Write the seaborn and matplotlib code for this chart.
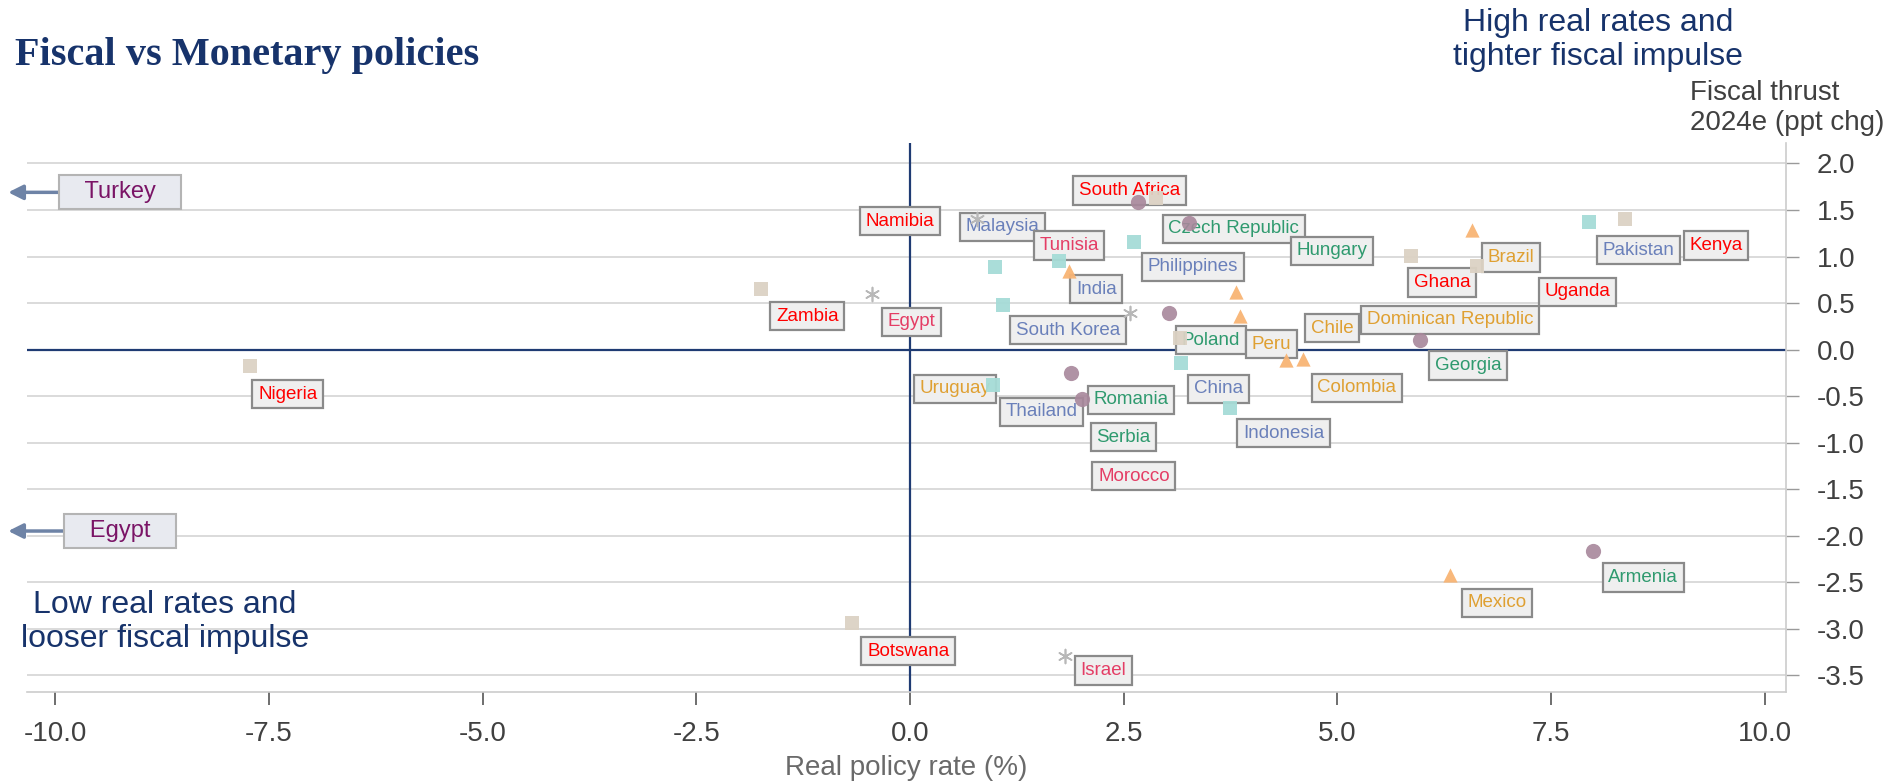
import matplotlib
matplotlib.use("Agg")
import matplotlib.pyplot as plt
import seaborn as sns
import pandas as pd

# ---------------- data ----------------
# real policy rate (%) / fiscal thrust 2024e (ppt chg), grouped by region marker
ssa_x = [-7.72, -1.74, -0.68, 2.88, 3.16, 5.86, 6.64, 8.37]
ssa_y = [-0.18, 0.65, -2.94, 1.63, 0.12, 1.01, 0.90, 1.40]
asia_x = [1.00, 1.09, 1.75, 2.62, 0.97, 3.17, 3.74, 7.94]
asia_y = [0.89, 0.48, 0.95, 1.16, -0.38, -0.14, -0.63, 1.37]
cee_x = [2.67, 3.26, 3.03, 1.88, 2.01, 5.97, 7.99]
cee_y = [1.59, 1.36, 0.39, -0.25, -0.53, 0.10, -2.16]
latam_x = [1.86, 3.81, 3.86, 4.40, 4.60, 6.58, 6.32]
latam_y = [0.84, 0.62, 0.36, -0.11, -0.10, 1.29, -2.42]
mena_x = [-0.44, 0.79, 2.58, 1.81]
mena_y = [0.60, 1.40, 0.39, -3.29]

# country labels and their region
countries = ["Nigeria", "Zambia", "Namibia", "Egypt", "Malaysia", "South Africa",
             "Tunisia", "Czech Republic", "Philippines", "India", "South Korea",
             "Hungary", "Ghana", "Brazil", "Pakistan", "Kenya", "Uganda",
             "Dominican Republic", "Chile", "Poland", "Peru", "Georgia", "Colombia",
             "Uruguay", "Thailand", "Romania", "China", "Serbia", "Indonesia",
             "Morocco", "Armenia", "Mexico", "Botswana", "Israel"]
country_region = ["SSA", "SSA", "SSA", "MENA", "Asia", "SSA",
                  "MENA", "CEE", "Asia", "Asia", "Asia",
                  "CEE", "SSA", "LatAm", "Asia", "SSA", "SSA",
                  "LatAm", "LatAm", "CEE", "LatAm", "CEE", "LatAm",
                  "LatAm", "Asia", "CEE", "Asia", "CEE", "Asia",
                  "MENA", "CEE", "LatAm", "SSA", "MENA"]

# off-chart outliers (arrows)
outliers = ["Turkey", "Egypt"]
outlier_y = [1.69, -1.95]

x_ticks = [-10.0, -7.5, -5.0, -2.5, 0.0, 2.5, 5.0, 7.5, 10.0]
y_ticks = [2.0, 1.5, 1.0, 0.5, 0.0, -0.5, -1.0, -1.5, -2.0, -2.5, -3.0, -3.5]

# ---------------- layout (label box centres) ----------------
label_pos = {
    "Nigeria": (-7.28, -0.48), "Zambia": (-1.20, 0.36), "Namibia": (-0.12, 1.38),
    "Egypt": (0.02, 0.30), "Malaysia": (1.08, 1.32), "South Africa": (2.57, 1.71),
    "Tunisia": (1.86, 1.12), "Czech Republic": (3.79, 1.30), "Philippines": (3.31, 0.89),
    "India": (2.18, 0.65), "South Korea": (1.85, 0.21), "Hungary": (4.94, 1.06),
    "Ghana": (6.23, 0.72), "Brazil": (7.03, 0.99), "Pakistan": (8.52, 1.07),
    "Kenya": (9.43, 1.12), "Uganda": (7.81, 0.62), "Dominican Republic": (6.32, 0.32),
    "Chile": (4.94, 0.23), "Poland": (3.52, 0.10), "Peru": (4.23, 0.06),
    "Georgia": (6.53, -0.17), "Colombia": (5.23, -0.41), "Uruguay": (0.53, -0.42),
    "Thailand": (1.54, -0.67), "Romania": (2.59, -0.54), "China": (3.61, -0.42),
    "Serbia": (2.50, -0.94), "Indonesia": (4.37, -0.90), "Morocco": (2.62, -1.36),
    "Armenia": (8.58, -2.45), "Mexico": (6.87, -2.72), "Botswana": (-0.02, -3.24),
    "Israel": (2.26, -3.45),
}

text_colors = {"SSA": "#ff0000", "CEE": "#2f9a6f", "Asia": "#6a80ba",
               "LatAm": "#dfa032", "MENA": "#e43d65"}
NAVY = "#17336b"

# ---------------- plot ----------------
sns.set_theme(style="white")
plt.rcParams["font.family"] = ["Liberation Sans", "DejaVu Sans"]
plt.rcParams["axes.unicode_minus"] = False

fig = plt.figure(figsize=(19.03, 7.82), dpi=100)
ax = fig.add_axes([0.0142, 0.1151, 0.9243, 0.702])

ax.set_xlim(-10.33, 10.25)
ax.set_ylim(-3.68, 2.22)

# grid
for yv in y_ticks:
    ax.axhline(yv, color="#d4d4d4", lw=1.2, zorder=0)
ax.axhline(0, color="#1f3b73", lw=1.6, zorder=1)
ax.axvline(0, color="#1f3b73", lw=1.6, zorder=1)

# country label boxes
for name, reg in zip(countries, country_region):
    lx, ly = label_pos[name]
    ax.text(lx, ly, name, ha="center", va="center", fontsize=13.5,
            color=text_colors[reg], zorder=3,
            bbox=dict(boxstyle="square,pad=0.3", fc="#efefef", ec="#8a8a8a", lw=1.6))

# markers
df_ssa = pd.DataFrame({"x": ssa_x, "y": ssa_y})
df_asia = pd.DataFrame({"x": asia_x, "y": asia_y})
df_cee = pd.DataFrame({"x": cee_x, "y": cee_y})
df_latam = pd.DataFrame({"x": latam_x, "y": latam_y})
df_mena = pd.DataFrame({"x": mena_x, "y": mena_y})

common = dict(ax=ax, legend=False, zorder=4, linewidth=0)
sns.scatterplot(data=df_ssa, x="x", y="y", marker="s", s=105, color="#dcd2c4", alpha=0.95, **common)
sns.scatterplot(data=df_asia, x="x", y="y", marker="s", s=105, color="#a6dcd7", alpha=0.95, **common)
sns.scatterplot(data=df_cee, x="x", y="y", marker="o", s=120, color="#a8879b", alpha=0.9, **common)
sns.scatterplot(data=df_latam, x="x", y="y", marker="^", s=105, color="#f8b474", alpha=0.95, **common)
sns.scatterplot(data=df_mena, x="x", y="y", marker=(6, 2, 0), s=100, color="#b8b8b8",
                ax=ax, legend=False, zorder=4, linewidth=1.2)

# outlier arrows
for name, oy in zip(outliers, outlier_y):
    ax.annotate("   " + name + "   ", xy=(-10.55, oy), xytext=(-9.24, oy),
                ha="center", va="center", fontsize=17, color="#7a1466",
                annotation_clip=False, zorder=5,
                bbox=dict(boxstyle="square,pad=0.25", fc="#e8eaf0", ec="#b4b4b4", lw=1.5),
                arrowprops=dict(arrowstyle="-|>", color="#6e83a6", lw=2.5,
                                mutation_scale=22, shrinkA=0, shrinkB=0))

# axes styling
ax.set_xticks(x_ticks)
ax.set_xticklabels([f"{v:.1f}" for v in x_ticks])
ax.set_yticks(y_ticks)
ax.set_yticklabels([f"{v:.1f}" for v in y_ticks])
ax.yaxis.tick_right()
ax.tick_params(axis="y", which="both", right=True, left=False, direction="out",
               length=9, width=1, color="#9a9a9a", labelsize=20, labelcolor="#404040", pad=13)
ax.tick_params(axis="x", which="both", bottom=True, direction="out",
               length=9, width=1.2, color="#555555", labelsize=20, labelcolor="#404040", pad=12)
for side in ["top", "left"]:
    ax.spines[side].set_visible(False)
ax.spines["right"].set_color("#cccccc")
ax.spines["bottom"].set_color("#cccccc")
ax.spines["right"].set_linewidth(1.2)
ax.spines["bottom"].set_linewidth(1.2)
ax.grid(False)
ax.set_xlabel("Real policy rate (%)", fontsize=20, color="#6a6a6a", labelpad=6)
ax.set_ylabel("")

# texts
fig.text(15 / 1903, 1 - 55 / 782, "Fiscal vs Monetary policies", family="Liberation Serif",
         weight="bold", fontsize=29, color=NAVY, ha="left", va="center")
fig.text(1598 / 1903, 1 - 40 / 782, "High real rates and\ntighter fiscal impulse",
         fontsize=23, color=NAVY, ha="center", va="center", linespacing=1.2)
fig.text(165 / 1903, 1 - 622 / 782, "Low real rates and\nlooser fiscal impulse",
         fontsize=23, color=NAVY, ha="center", va="center", linespacing=1.2)
fig.text(1690 / 1903, 1 - 108 / 782, "Fiscal thrust\n2024e (ppt chg)",
         fontsize=20, color="#404040", ha="left", va="center", linespacing=1.2)

fig.savefig("out.png", dpi=100)
